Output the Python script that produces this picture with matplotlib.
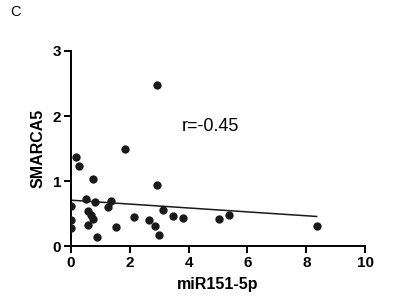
import matplotlib
matplotlib.use('Agg')
import matplotlib.pyplot as plt

# DATA
mir151 = [0, 0, 0, 0.18, 0.28, 0.52, 0.6, 0.6, 0.68, 0.77, 0.77, 0.83, 0.89,
          1.28, 1.35, 1.55, 1.84, 2.13, 2.64, 2.87, 2.92, 2.92, 2.99, 3.14,
          3.48, 3.82, 5.02, 5.37, 8.35]
smarca5 = [0.62, 0.40, 0.28, 1.37, 1.24, 0.73, 0.54, 0.33, 0.48, 0.42, 1.04, 0.68, 0.14,
           0.60, 0.70, 0.30, 1.49, 0.45, 0.40, 0.31, 2.47, 0.95, 0.18, 0.56,
           0.47, 0.44, 0.42, 0.48, 0.32]

# regression line end points
line_x = [0, 8.35]
line_y = [0.71, 0.46]

xticks = [0, 2, 4, 6, 8, 10]
yticks = [0, 1, 2, 3]

plt.rcParams['font.family'] = ['Liberation Sans', 'DejaVu Sans']

fig = plt.figure(figsize=(4, 3.05), dpi=100)
ax = fig.add_axes([0.177, 0.192, 0.736, 0.641])

ax.scatter(mir151, smarca5, s=36, color='#1a1a1a', zorder=3, linewidths=0)
ax.plot(line_x, line_y, color='#1a1a1a', lw=1.1, zorder=2)

ax.set_xlim(0, 10)
ax.set_ylim(0, 3)
ax.set_xticks(xticks)
ax.set_yticks(yticks)

for side in ['top', 'right']:
    ax.spines[side].set_visible(False)
for side in ['left', 'bottom']:
    ax.spines[side].set_linewidth(1.4)
ax.tick_params(direction='out', length=5, width=1.4, labelsize=11, pad=2)
for lab in ax.get_xticklabels() + ax.get_yticklabels():
    lab.set_fontweight('bold')

ax.set_xlabel('miR151-5p', fontsize=11.5, fontweight='bold', labelpad=5)
ax.set_ylabel('SMARCA5', fontsize=11.5, fontweight='bold', labelpad=5)

ax.text(3.78, 1.84, 'r=-0.45', fontsize=13, ha='left', va='center')
fig.text(0.025, 0.96, 'C', fontsize=10.5, ha='left', va='center')

plt.savefig('out.png', dpi=100)
